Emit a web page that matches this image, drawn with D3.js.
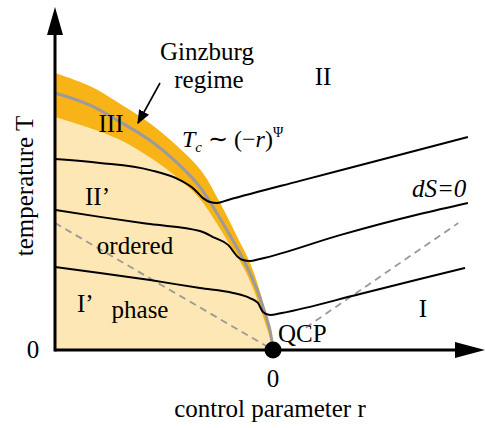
<!DOCTYPE html>
<html>
<head>
<meta charset="utf-8">
<script src="https://cdn.jsdelivr.net/npm/d3@7"></script>
<style>
  body { margin: 0; background: #fff; }
  text { font-family: "Liberation Serif", "Times New Roman", serif; fill: #000; }
</style>
</head>
<body>
<svg id="chart" width="485" height="428"></svg>
<script>
// control parameter r (QCP at r = 0), temperature T (Tc(r=-1) = 1)
var tcLine = [[-1, 1.000], [-0.84, 0.953], [-0.70, 0.887], [-0.56, 0.813], [-0.43, 0.720],
    [-0.335, 0.634], [-0.266, 0.545], [-0.188, 0.432], [-0.128, 0.339], [-0.078, 0.245],
    [-0.041, 0.156], [-0.014, 0.078], [0, 0]];
var ginzburgOuter = [[-1, 1.078], [-0.84, 1.027], [-0.70, 0.957], [-0.56, 0.879], [-0.43, 0.786],
    [-0.325, 0.693], [-0.240, 0.568], [-0.166, 0.444], [-0.105, 0.339], [-0.062, 0.233],
    [-0.029, 0.125], [-0.009, 0.047], [0, 0]];
var ginzburgInner = [[-1, 0.907], [-0.84, 0.864], [-0.70, 0.817], [-0.56, 0.747], [-0.43, 0.665],
    [-0.335, 0.588], [-0.262, 0.498], [-0.200, 0.412], [-0.134, 0.319], [-0.088, 0.233],
    [-0.048, 0.136], [-0.017, 0.054], [0, 0]];

// isentropes dS=0
var isentrope1 = [[-1, 0.743], [-0.794, 0.728], [-0.564, 0.700], [-0.427, 0.661], [-0.358, 0.623],
    [-0.321, 0.591], [-0.289, 0.576], [-0.257, 0.572], [-0.206, 0.584], [0.124, 0.658],
    [0.491, 0.739], [0.894, 0.829]];
var isentrope2 = [[-1, 0.545], [-0.794, 0.518], [-0.564, 0.490], [-0.335, 0.463], [-0.266, 0.436],
    [-0.206, 0.409], [-0.161, 0.362], [-0.138, 0.350], [-0.106, 0.346], [-0.060, 0.354],
    [0.307, 0.447], [0.674, 0.529], [0.894, 0.572]];
var isentrope3 = [[-1, 0.323], [-0.794, 0.300], [-0.564, 0.272], [-0.335, 0.241], [-0.183, 0.222],
    [-0.106, 0.202], [-0.069, 0.183], [-0.046, 0.148], [-0.014, 0.136], [0.041, 0.144],
    [0.399, 0.218], [0.674, 0.276], [0.881, 0.319]];

// crossover lines (dashed)
var crossLeft = [[-1, 0.494], [0, 0]];
var crossRight = [[0.15, 0.087], [0.85, 0.494]];

var qcp = [0, 0];
var xTicks = ["0"];
var yTicks = ["0"];

var svg = d3.select("#chart");
var x = d3.scaleLinear().domain([-1, 1]).range([55, 491]);
var y = d3.scaleLinear().domain([0, 1]).range([350, 93]);

var line = d3.line()
    .x(function(d) { return x(d[0]); })
    .y(function(d) { return y(d[1]); })
    .curve(d3.curveMonotoneX);

var smooth = d3.line()
    .x(function(d) { return x(d[0]); })
    .y(function(d) { return y(d[1]); })
    .curve(d3.curveCatmullRom.alpha(0.5));

// closed region under a boundary, down to the axes
function region(pts) {
    var p = smooth(pts);
    return p + "L" + x(0) + "," + y(0) + "L" + x(-1) + "," + y(0) + "Z";
}

// Ginzburg band and ordered phase
svg.append("path").attr("d", region(ginzburgOuter)).attr("fill", "#f8b416");
svg.append("path").attr("d", region(ginzburgInner)).attr("fill", "#fde7b4");
svg.append("path").attr("d", smooth(tcLine))
    .attr("fill", "none").attr("stroke", "#9b9b9b").attr("stroke-width", 3);

// crossover lines
svg.selectAll(".cross")
    .data([crossLeft, crossRight])
    .enter().append("path")
    .attr("class", "cross")
    .attr("d", d3.line().x(function(d) { return x(d[0]); }).y(function(d) { return y(d[1]); }))
    .attr("fill", "none")
    .attr("stroke", "#999")
    .attr("stroke-width", 1.8)
    .attr("stroke-dasharray", "7,5");

// isentropes
svg.selectAll(".isen")
    .data([isentrope1, isentrope2, isentrope3])
    .enter().append("path")
    .attr("class", "isen")
    .attr("d", line)
    .attr("fill", "none")
    .attr("stroke", "#000")
    .attr("stroke-width", 2);

// axes with arrows
var x0 = x(-1), y0 = y(0);
svg.append("line").attr("x1", x0).attr("y1", y0).attr("x2", 458).attr("y2", y0)
    .attr("stroke", "#000").attr("stroke-width", 3);
svg.append("path").attr("d", "M455," + (y0 - 8) + "L485," + y0 + "L455," + (y0 + 8) + "Z");
svg.append("line").attr("x1", x0).attr("y1", y0 + 1.5).attr("x2", x0).attr("y2", 32)
    .attr("stroke", "#000").attr("stroke-width", 3);
svg.append("path").attr("d", "M" + (x0 - 8) + ",35L" + x0 + ",7L" + (x0 + 8) + ",35Z");

svg.append("text").attr("x", x(0)).attr("y", 387).attr("text-anchor", "middle")
    .style("font-size", "25px").text(xTicks[0]);
svg.append("text").attr("x", 33).attr("y", 358).attr("text-anchor", "middle")
    .style("font-size", "25px").text(yTicks[0]);

svg.append("circle").attr("cx", x(qcp[0])).attr("cy", y(qcp[1])).attr("r", 8.5).attr("fill", "#000");

// axis titles
svg.append("text").attr("x", 270).attr("y", 417).attr("text-anchor", "middle")
    .style("font-size", "25px").text("control parameter r");
svg.append("text").attr("transform", "translate(33,186) rotate(-90)").attr("text-anchor", "middle")
    .style("font-size", "25px").text("temperature T");

// region labels
function label(txt, px, py, anchor, italic) {
    svg.append("text").attr("x", px).attr("y", py)
        .attr("text-anchor", anchor || "start")
        .style("font-size", "25px")
        .style("font-style", italic ? "italic" : "normal")
        .text(txt);
}
label("Ginzburg", 207, 60, "middle");
label("regime", 209, 88, "middle");
label("II", 323, 85, "middle");
label("III", 111, 132, "middle");
label("II\u2019", 85, 205);
label("ordered", 135, 254, "middle");
label("I\u2019", 77, 312);
label("phase", 140, 318, "middle");
label("QCP", 278, 342);
label("I", 423, 317, "middle");
label("dS=0", 412, 197, "start", true);

// Tc ~ (-r)^Psi
var tc = svg.append("text").attr("x", 182).attr("y", 147).style("font-size", "24px").attr("fill", "#333");
tc.append("tspan").style("font-style", "italic").text("T");
tc.append("tspan").style("font-style", "italic").style("font-size", "15px").attr("dy", 5).text("c");
tc.append("tspan").attr("dy", -5).text(" \u223C (\u2212");
tc.append("tspan").style("font-style", "italic").text("r");
tc.append("tspan").text(")");
tc.append("tspan").style("font-size", "14px").attr("dy", -10).text("\u03A8");

// arrow pointing at the Ginzburg band
svg.append("defs").append("marker")
    .attr("id", "head")
    .attr("viewBox", "0 -5 10 10")
    .attr("refX", 9)
    .attr("refY", 0)
    .attr("markerWidth", 14)
    .attr("markerHeight", 14)
    .attr("markerUnits", "userSpaceOnUse")
    .attr("orient", "auto")
    .append("path")
    .attr("d", "M0,-4L10,0L0,4Z");
svg.append("line").attr("x1", 160).attr("y1", 83).attr("x2", 138).attr("y2", 123)
    .attr("stroke", "#000").attr("stroke-width", 1.6).attr("marker-end", "url(#head)");
</script>
</body>
</html>
